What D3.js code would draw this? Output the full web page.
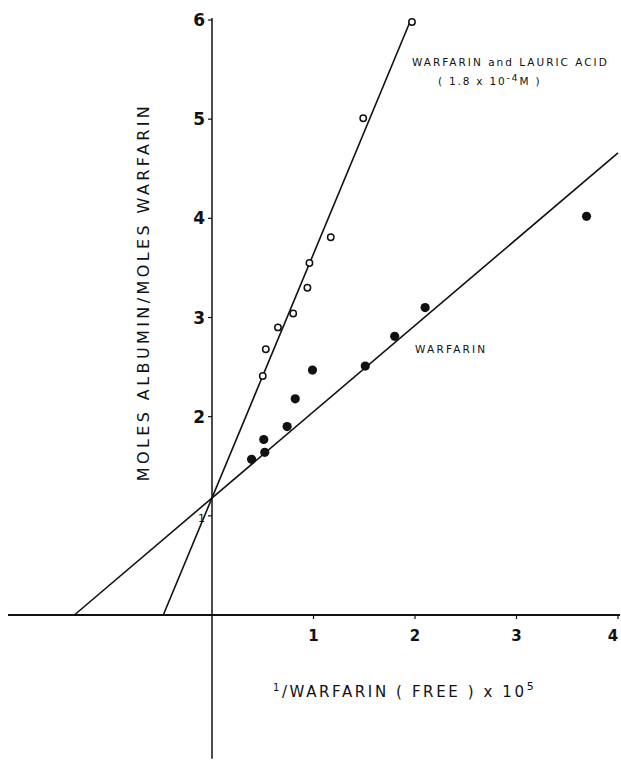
<!DOCTYPE html>
<html>
<head>
<meta charset="utf-8">
<script src="https://cdn.jsdelivr.net/npm/d3@7"></script>
<style>
  body { margin: 0; background: #fff; }
  text { font-family: "DejaVu Sans", "Liberation Sans", sans-serif; fill: #111; }
</style>
</head>
<body>
<div id="chart-area"></div>
<script>
// Data
const xTicks = [1, 2, 3, 4];
const yTicks = [1, 2, 3, 4, 5, 6];

// warfarin + lauric acid (open circles)
const lauricX = [0.50, 0.53, 0.65, 0.80, 0.94, 0.96, 1.17, 1.49, 1.97];
const lauricY = [2.41, 2.68, 2.90, 3.04, 3.30, 3.55, 3.81, 5.01, 5.98];

// warfarin alone (filled circles)
const warfarinX = [0.39, 0.52, 0.51, 0.74, 0.82, 0.99, 1.51, 1.80, 2.10, 3.69];
const warfarinY = [1.57, 1.64, 1.77, 1.90, 2.18, 2.47, 2.51, 2.81, 3.10, 4.02];

// fitted lines, as end points [x, y]
const lauricLine = [[-0.48, 0], [1.95, 5.98]];
const warfarinLine = [[-1.356, 0], [4.0, 4.66]];

const drawChart = () => {
  let width = 621;
  let height = 761;

  let svg = d3.select("#chart-area")
    .append("svg")
      .attr("width", width)
      .attr("height", height);

  let x = d3.scaleLinear().domain([0, 4]).range([212, 618]);
  let y = d3.scaleLinear().domain([0, 6]).range([615, 20]);

  // Axes lines through the origin
  svg.append("line")
    .attr("x1", x(-2.01)).attr("x2", x(4.02))
    .attr("y1", y(0)).attr("y2", y(0))
    .attr("stroke", "#111").attr("stroke-width", 1.8);

  svg.append("line")
    .attr("x1", x(0)).attr("x2", x(0))
    .attr("y1", y(6.02)).attr("y2", y(-1.45))
    .attr("stroke", "#111").attr("stroke-width", 1.5);

  // x ticks
  let xt = svg.append("g").selectAll("g").data(xTicks).enter().append("g");
  xt.append("line")
    .attr("x1", d => x(d)).attr("x2", d => x(d))
    .attr("y1", y(0)).attr("y2", y(0) + 4)
    .attr("stroke", "#111").attr("stroke-width", 1.2);
  xt.append("text")
    .attr("x", d => Math.min(x(d), 613)).attr("y", 641)
    .attr("text-anchor", "middle")
    .style("font-size", "15px")
    .style("font-weight", "bold")
    .text(d => d);

  // y ticks
  let yt = svg.append("g").selectAll("g").data(yTicks).enter().append("g");
  yt.append("line")
    .attr("x1", x(0) - 4).attr("x2", x(0))
    .attr("y1", d => y(d)).attr("y2", d => y(d))
    .attr("stroke", "#111").attr("stroke-width", 1.2);
  yt.append("text")
    .attr("x", x(0) - 7).attr("y", d => y(d) + 6)
    .attr("text-anchor", "end")
    .style("font-size", d => d === 1 ? "11px" : "17px")
    .style("font-weight", d => d === 1 ? "normal" : "bold")
    .text(d => d);

  // Fitted lines
  let line = d3.line().x(d => x(d[0])).y(d => y(d[1]));
  [lauricLine, warfarinLine].forEach(l => {
    svg.append("path")
      .attr("d", line(l))
      .attr("fill", "none")
      .attr("stroke", "#111")
      .attr("stroke-width", 1.6);
  });

  // Points
  svg.append("g").selectAll("circle")
    .data(lauricX.map((d, i) => [d, lauricY[i]]))
    .enter().append("circle")
      .attr("cx", d => x(d[0])).attr("cy", d => y(d[1]))
      .attr("r", 3.2)
      .attr("fill", "#fff")
      .attr("stroke", "#111")
      .attr("stroke-width", 1.5);

  svg.append("g").selectAll("circle")
    .data(warfarinX.map((d, i) => [d, warfarinY[i]]))
    .enter().append("circle")
      .attr("cx", d => x(d[0])).attr("cy", d => y(d[1]))
      .attr("r", 4.6)
      .attr("fill", "#111");

  // Labels
  svg.append("text")
    .attr("x", 412).attr("y", 66)
    .style("font-size", "10.5px")
    .style("letter-spacing", "2px")
    .text("WARFARIN and LAURIC ACID");

  let sub = svg.append("text")
    .attr("x", 438).attr("y", 85)
    .style("font-size", "10.5px")
    .style("letter-spacing", "1.8px")
    .text("( 1.8 x 10");
  sub.append("tspan").attr("dy", -4).style("font-size", "9.5px").text("-4");
  sub.append("tspan").attr("dy", 4).text("M )");

  svg.append("text")
    .attr("x", 415).attr("y", 353)
    .style("font-size", "10.5px")
    .style("letter-spacing", "2.2px")
    .text("WARFARIN");

  let xl = svg.append("text")
    .attr("x", 273).attr("y", 697)
    .style("font-size", "15px")
    .style("letter-spacing", "2.6px");
  xl.append("tspan").attr("dy", -6).style("font-size", "10px").text("1");
  xl.append("tspan").attr("dy", 6).text("/WARFARIN  ( FREE ) x 10");
  xl.append("tspan").attr("dy", -7).style("font-size", "11px").text("5");

  svg.append("text")
    .attr("transform", "translate(149, 292) rotate(-90)")
    .attr("text-anchor", "middle")
    .style("font-size", "16px")
    .style("letter-spacing", "3.4px")
    .text("MOLES  ALBUMIN/MOLES  WARFARIN");
};

drawChart();
</script>
</body>
</html>
